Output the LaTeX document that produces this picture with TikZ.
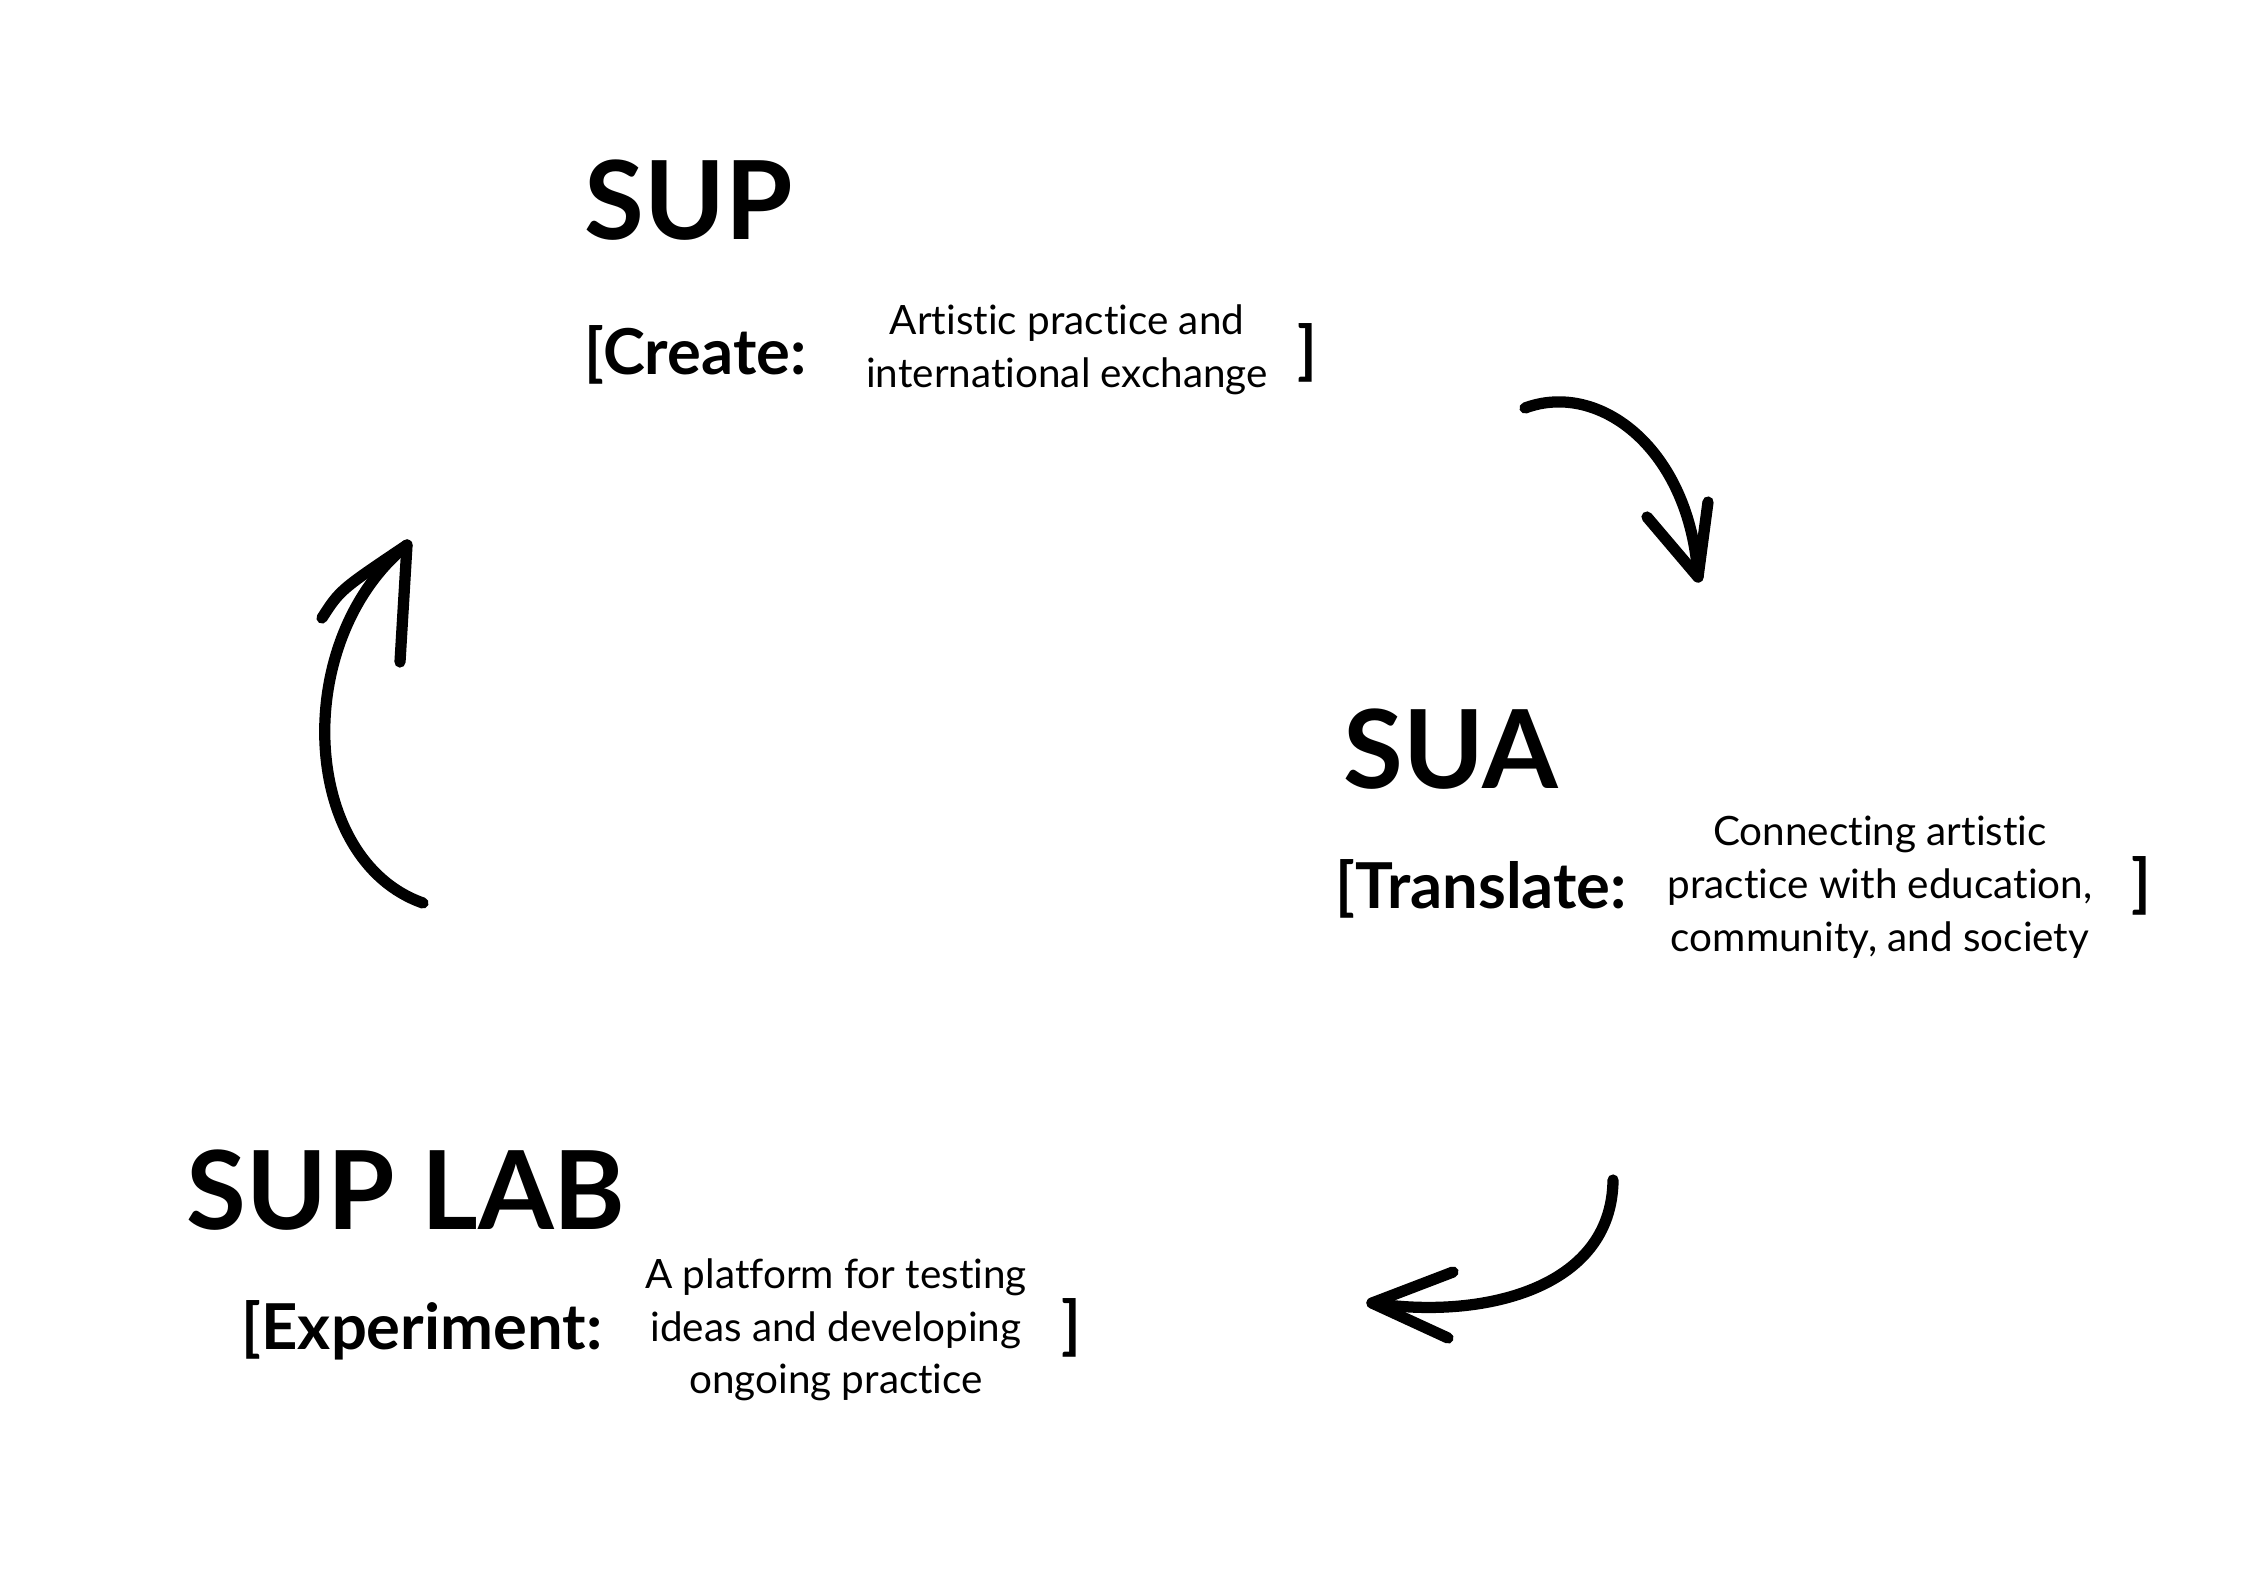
\documentclass[tikz,border=0pt]{standalone}
\usepackage{fontspec}
\setmainfont{Lato}[Ligatures=NoCommon]
\tikzset{
	title/.style={font=\bfseries\fontsize{31}{31}\selectfont,anchor=base west,inner sep=0pt},
	tag/.style={font=\bfseries\fontsize{18}{18}\selectfont,anchor=base west,inner sep=0pt},
	desc/.style={font=\fontsize{11.5}{15}\selectfont,align=center,inner sep=0pt},
	closer/.style={font=\bfseries\fontsize{18}{18}\selectfont,inner sep=0pt},
	stroke/.style={line width=3.2pt,line cap=round,line join=round}
}
\begin{document}
\begin{tikzpicture}[x=0.01cm,y=-0.01cm]
	\path[fill=white,use as bounding box] (0,0) rectangle (2245,1587);
	% SUP
	\node[title] (sup) at (584,239) {SUP};
	\node[tag] (supTag) at (584,374) {[Create:};
	\node[desc] (supDesc) at (1067,350) {Artistic practice and\\international exchange};
	\node[closer] (supEnd) at (1307,353) {]};
	% SUA
	\node[title] (sua) at (1343,788) {SUA};
	\node[tag] (suaTag) at (1335,908) {[Translate:};
	\node[desc] (suaDesc) at (1880,887) {Connecting artistic\\practice with education,\\community, and society};
	\node[closer] (suaEnd) at (2141,886) {]};
	% SUP LAB
	\node[title] (lab) at (186,1229) {SUP LAB};
	\node[tag] (labTag) at (241,1349) {[Experiment:};
	\node[desc] (labDesc) at (836,1330) {A platform for testing\\ideas and developing\\ongoing practice};
	\node[closer] (labEnd) at (1071,1328) {]};
	% arrows
	\coordinate (a1s) at (1525,408);
	\coordinate (a1t) at (1698,577);
	\draw[stroke] (a1s) .. controls (1600,380) and (1690,450) .. (a1t);
	\draw[stroke] (1647,517) -- (a1t) -- (1708,502);
	\coordinate (a2s) at (1613,1180);
	\coordinate (a2t) at (1372,1303);
	\draw[stroke] (a2s) .. controls (1612,1290) and (1480,1320) .. (a2t);
	\draw[stroke] (1453,1272) -- (a2t) -- (1448,1338);
	\coordinate (a3s) at (423,903);
	\coordinate (a3t) at (407,545);
	\draw[stroke] (a3s) .. controls (300,860) and (290,640) .. (a3t);
	\draw[stroke] (322,618) .. controls (340,590) .. (a3t) -- (400,662);
\end{tikzpicture}
\end{document}
